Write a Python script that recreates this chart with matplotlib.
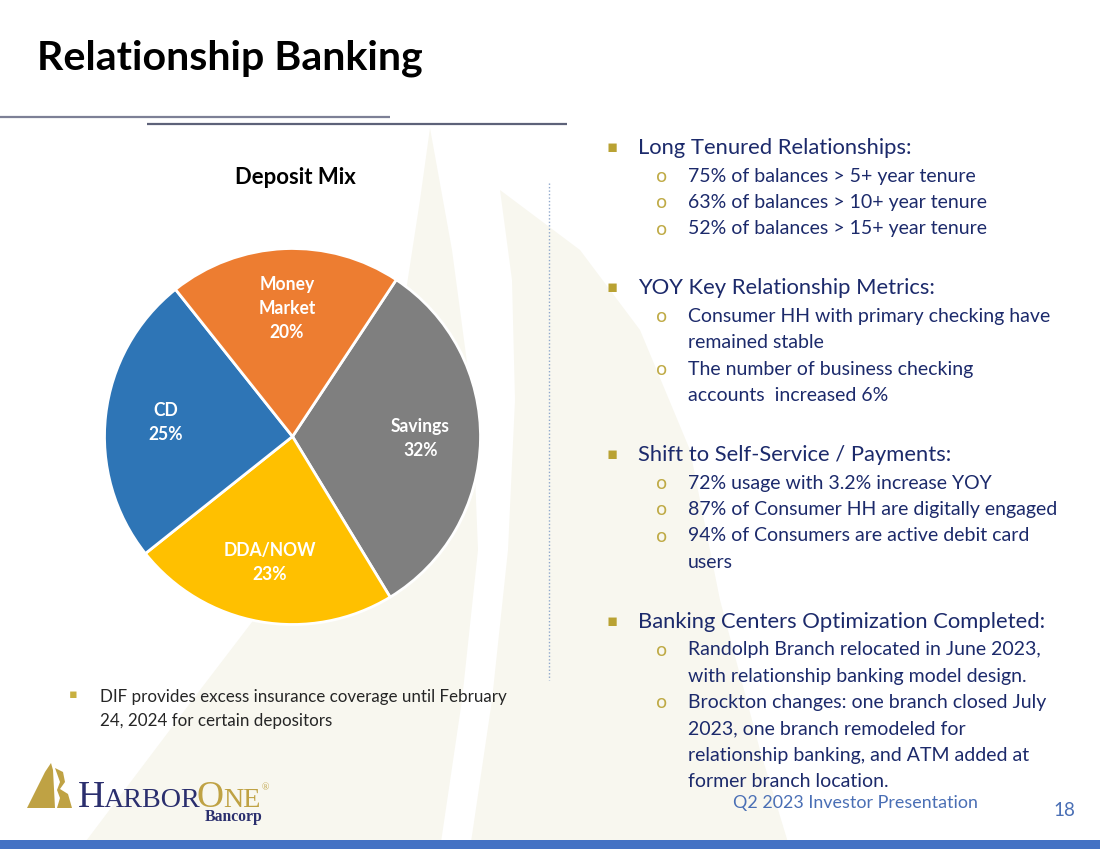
import matplotlib
matplotlib.use('Agg')
import matplotlib.pyplot as plt
from matplotlib.patches import Polygon, Rectangle

# ---------------- data ----------------
categories = ['Savings', 'DDA/NOW', 'CD', 'Money\nMarket']
values = [32, 23, 25, 20]
colors = ['#7f7f7f', '#ffc000', '#2e75b6', '#ed7d31']

title = 'Relationship Banking'
chart_title = 'Deposit Mix'

sections = [
    ('Long Tenured Relationships:', [
        ['75% of balances > 5+ year tenure'],
        ['63% of balances > 10+ year tenure'],
        ['52% of balances > 15+ year tenure'],
    ]),
    ('YOY Key Relationship Metrics:', [
        ['Consumer HH with primary checking have', 'remained stable'],
        ['The number of business checking', 'accounts  increased 6%'],
    ]),
    ('Shift to Self-Service / Payments:', [
        ['72% usage with 3.2% increase YOY'],
        ['87% of Consumer HH are digitally engaged'],
        ['94% of Consumers are active debit card', 'users'],
    ]),
    ('Banking Centers Optimization Completed:', [
        ['Randolph Branch relocated in June 2023,', 'with relationship banking model design.'],
        ['Brockton changes: one branch closed July', '2023, one branch remodeled for',
         'relationship banking, and ATM added at', 'former branch location.'],
    ]),
]
dif_lines = ['DIF provides excess insurance coverage until February',
             '24, 2024 for certain depositors']
footer = 'Q2 2023 Investor Presentation'
page = '18'

# ---------------- style ----------------
FONT = 'Lato'
NAVY = '#1c2a6b'
GOLD = '#b9a233'
CREAM = '#f8f7ef'
BLUE = '#4472c4'

W, H = 1100, 849
fig = plt.figure(figsize=(11, 8.49), dpi=100)
bg = fig.add_axes([0, 0, 1, 1])
bg.set_xlim(0, W)
bg.set_ylim(H, 0)
bg.axis('off')
renderer = fig.canvas.get_renderer()


def fit(txt, target, **kw):
    t = bg.text(0, 0, txt, fontsize=10, **kw)
    w = t.get_window_extent(renderer).width
    t.remove()
    return 10 * target / w


# faint background sails (decoration)
sailA = [(430, 128), (452, 250), (472, 400), (478, 550), (462, 700), (440, 849),
         (80, 849), (200, 690), (330, 520), (400, 330), (420, 200)]
sailB = [(500, 190), (580, 250), (640, 330), (690, 450), (720, 600), (760, 750),
         (790, 849), (470, 849), (492, 700), (508, 550), (515, 400), (512, 280)]
for s in (sailA, sailB):
    bg.add_patch(Polygon(s, closed=True, facecolor=CREAM, edgecolor='none', zorder=0))

# title
fs_title = fit(title, 386, family=FONT, weight='bold')
bg.text(37, 58, title, fontsize=fs_title, family=FONT, weight='bold', color='black',
        ha='left', va='center')

# header rules
bg.plot([0, 390], [117, 117], color='#7d8096', lw=1.6, solid_capstyle='butt')
bg.plot([147, 567], [124, 124], color='#5d6279', lw=1.6, solid_capstyle='butt')

# dotted separator
bg.plot([549, 549], [183, 680], color='#8fa8cc', lw=1, ls=(0, (1, 1.5)))

# bottom bar
bg.add_patch(Rectangle((0, 840), W, 9, facecolor=BLUE, edgecolor='none'))

# ---------------- pie ----------------
cx, cy, R = 292.5, 436.5, 188
ax = fig.add_axes([(cx - R) / W, (H - cy - R) / H, 2 * R / W, 2 * R / H])
labels = [f'{c}\n{v}%' for c, v in zip(categories, values)]
fs_lab = fit('Savings', 59, family=FONT, weight='bold')
wedges, texts = ax.pie(values, labels=labels, colors=colors, startangle=56.5,
                       counterclock=False, labeldistance=0.68,
                       wedgeprops=dict(edgecolor='white', linewidth=2),
                       textprops=dict(color='white', weight='bold', family=FONT,
                                      fontsize=fs_lab, ha='center', va='center',
                                      linespacing=1.5))
for w in wedges:
    w.set_clip_on(False)
ax.set_xlim(-1, 1)
ax.set_ylim(-1, 1)
ax.set_aspect('equal')
ax.axis('off')

fs_ct = fit(chart_title, 121, family=FONT, weight='bold')
bg.text(295, 177, chart_title, fontsize=fs_ct, family=FONT, weight='bold', color='black',
        ha='center', va='center')

# ---------------- right bullets ----------------
fs_main = fit(sections[0][0], 275, family=FONT)
fs_sub = fit(sections[0][1][0][0], 287, family=FONT)
y = 148
for head, items in sections:
    bg.text(612, y - 1, '\u25aa', fontsize=fs_main * 0.75, family='DejaVu Sans', color=GOLD,
            ha='center', va='center')
    bg.text(638, y, head, fontsize=fs_main, family=FONT, color=NAVY, ha='left', va='center')
    y += 28
    for item in items:
        bg.text(662, y + 1, 'o', fontsize=fs_sub * 0.95, family='DejaVu Sans', color=GOLD,
                ha='center', va='center', alpha=0.9)
        for line in item:
            bg.text(688, y, line, fontsize=fs_sub, family=FONT, color=NAVY,
                    ha='left', va='center')
            y += 26.4
    y += 59.5 - 26.4

# ---------------- DIF note ----------------
fs_dif = fit(dif_lines[0], 408, family=FONT)
bg.text(73, 695, '\u25aa', fontsize=fs_dif * 0.75, family='DejaVu Sans', color='#c8b040',
        ha='center', va='center')
for i, line in enumerate(dif_lines):
    bg.text(100, 697 + 24 * i, line, fontsize=fs_dif, family=FONT, color='#262626',
            ha='left', va='center')

# ---------------- footer ----------------
fs_ft = fit(footer, 245, family=FONT)
bg.text(855, 803, footer, fontsize=fs_ft, family=FONT, color='#4a6fb5', ha='center', va='center')
bg.text(1064, 810, page, fontsize=fs_ft * 1.05, family=FONT, color='#4a6fb5', ha='center', va='center')

# ---------------- logo ----------------
LOGO_GOLD = '#bfa244'
LOGO_NAVY = '#2b2f6e'
bg.add_patch(Polygon([(27, 808), (45, 772), (51, 763), (53, 770), (55, 808)], closed=True,
                     facecolor=LOGO_GOLD, edgecolor='none'))
bg.add_patch(Polygon([(55, 768), (63, 772), (65, 782), (60, 789), (68, 794), (72, 808),
                      (57, 808), (60, 798), (57, 790), (60, 782)], closed=True,
                     facecolor=LOGO_GOLD, edgecolor='none'))
SERIF = 'Liberation Serif'
pieces = [('H', 1.0, LOGO_NAVY, 0), ('ARBOR', 0.75, LOGO_NAVY, -1),
          ('O', 1.0, LOGO_GOLD, -4), ('NE', 0.75, LOGO_GOLD, -1)]
tot = 0
for txt, rel, col, kern in pieces:
    t = bg.text(0, 0, txt, fontsize=10 * rel, family=SERIF)
    tot += t.get_window_extent(renderer).width
    t.remove()
base = 10 * 188 / tot
x = 78
for txt, rel, col, kern in pieces:
    x += kern
    t = bg.text(x, 807, txt, fontsize=base * rel, family=SERIF, color=col, ha='left',
                va='baseline')
    x = bg.transData.inverted().transform((t.get_window_extent(renderer).x1, 0))[0]
bg.text(x + 1, 788, '\u00ae', fontsize=7, family=SERIF, color=LOGO_GOLD, ha='left', va='center')
fs_bc = fit('Bancorp', 58, family=SERIF, weight='bold')
bg.text(205, 821, 'Bancorp', fontsize=fs_bc, family=SERIF, weight='bold', color=LOGO_NAVY,
        ha='left', va='baseline')

fig.savefig('out.png', dpi=100)
